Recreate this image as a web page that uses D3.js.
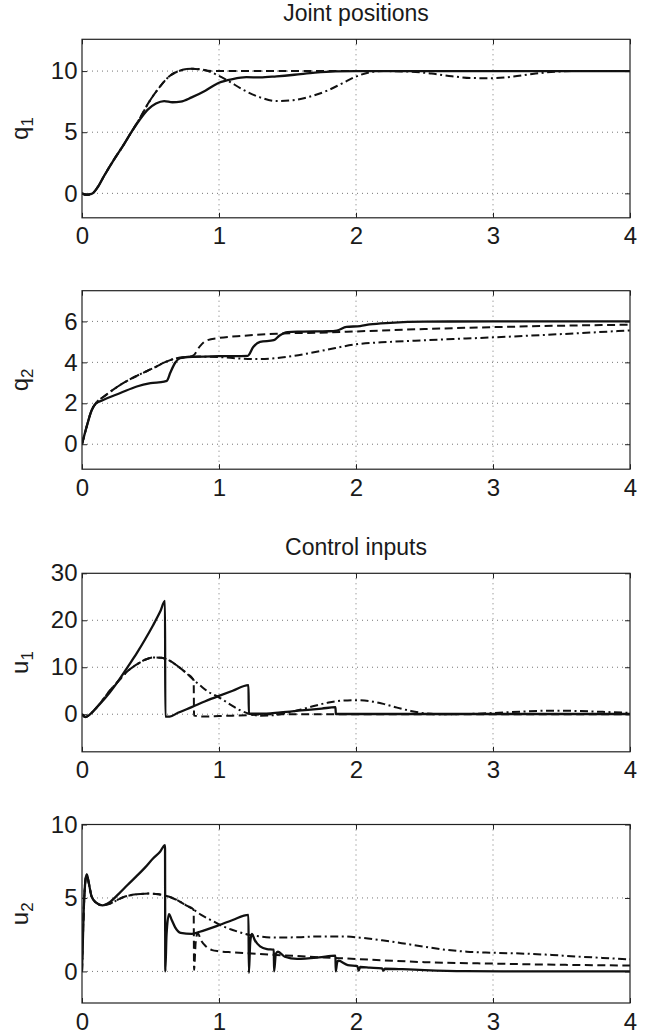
<!DOCTYPE html>
<html>
<head>
<meta charset="utf-8">
<script src="https://cdn.jsdelivr.net/npm/d3@7"></script>
<style>
  body { margin: 0; background: #fff; }
  text { font-family: "Liberation Sans", Arial, Helvetica, sans-serif; fill: #1a1a1a; }
</style>
</head>
<body>
<svg id="chart" width="665" height="1034"></svg>
<script>
// shared time axis
var timeTicks = [0, 1, 2, 3, 4];

// y tick labels per panel
var q1Ticks = [0, 5, 10];
var q2Ticks = [0, 2, 4, 6];
var u1Ticks = [0, 10, 20, 30];
var u2Ticks = [0, 5, 10];

// joint position q1  [t, value]
var q1Solid = [[0,0],[0.03,-0.12],[0.07,-0.05],[0.12,0.6],[0.16,1.4],[0.23,2.7],[0.3,3.9],[0.36,5.0],[0.42,6.0],[0.48,6.85],[0.54,7.35],[0.6,7.55],[0.66,7.45],[0.72,7.5],[0.8,7.85],[0.9,8.4],[1.0,9.05],[1.1,9.35],[1.2,9.5],[1.3,9.48],[1.42,9.57],[1.55,9.7],[1.7,9.88],[1.85,9.98],[2.0,10.0],[4,10.0]];
var q1Dashed = [[0,0],[0.03,-0.12],[0.07,-0.05],[0.12,0.6],[0.16,1.4],[0.23,2.7],[0.3,3.9],[0.36,5.0],[0.42,6.1],[0.48,7.3],[0.56,8.6],[0.64,9.6],[0.72,10.05],[0.8,10.2],[0.86,10.15],[0.92,10.02],[1.0,10.0],[4,10.0]];
var q1DashDot = [[0,0],[0.03,-0.12],[0.07,-0.05],[0.12,0.6],[0.16,1.4],[0.23,2.7],[0.3,3.9],[0.36,5.0],[0.42,6.1],[0.48,7.3],[0.56,8.6],[0.64,9.6],[0.72,10.05],[0.8,10.2],[0.86,10.15],[0.92,10.0],[0.98,9.72],[1.06,9.25],[1.18,8.45],[1.3,7.85],[1.42,7.55],[1.54,7.62],[1.66,7.9],[1.79,8.4],[1.9,9.0],[2.0,9.55],[2.1,9.9],[2.2,10.0],[2.4,9.95],[2.55,9.8],[2.7,9.58],[2.85,9.43],[3.0,9.42],[3.15,9.55],[3.3,9.78],[3.45,9.95],[3.6,10.0],[4,10.0]];

// joint position q2
var q2Solid = [[0,0],[0.034,0.86],[0.07,1.65],[0.1,1.98],[0.15,2.15],[0.28,2.5],[0.4,2.82],[0.5,2.98],[0.6,3.06],[0.62,3.1],[0.645,3.5],[0.68,3.98],[0.715,4.2],[0.77,4.26],[1.0,4.3],[1.21,4.32],[1.25,4.75],[1.3,5.0],[1.4,5.08],[1.44,5.3],[1.5,5.48],[1.6,5.5],[1.8,5.52],[1.86,5.55],[1.93,5.73],[2.03,5.77],[2.1,5.85],[2.25,5.93],[2.5,5.99],[3.0,6.0],[4,6.0]];
var q2Dashed = [[0,0],[0.034,0.86],[0.07,1.65],[0.1,2.0],[0.16,2.33],[0.28,2.9],[0.4,3.34],[0.52,3.72],[0.62,4.05],[0.69,4.2],[0.76,4.26],[0.81,4.32],[0.86,4.78],[0.91,5.07],[1.0,5.19],[1.18,5.3],[1.42,5.4],[1.79,5.46],[2.0,5.51],[2.5,5.63],[3.0,5.72],[3.5,5.79],[4.0,5.84]];
var q2DashDot = [[0,0],[0.034,0.86],[0.07,1.65],[0.1,2.0],[0.16,2.33],[0.28,2.9],[0.4,3.34],[0.52,3.72],[0.62,4.05],[0.69,4.2],[0.76,4.26],[0.85,4.28],[1.0,4.26],[1.1,4.21],[1.3,4.16],[1.49,4.26],[1.66,4.45],[1.79,4.62],[2.0,4.88],[2.25,5.0],[2.5,5.08],[3.0,5.22],[3.5,5.38],[4.0,5.56]];

// control input u1
var u1Solid = [[0,0],[0.025,-0.6],[0.06,0.0],[0.1,1.2],[0.18,3.8],[0.26,6.9],[0.334,10.1],[0.4,13.0],[0.46,15.9],[0.52,19.0],[0.57,21.8],[0.606,24.1],[0.608,-0.5],[0.64,-0.5],[0.7,0.3],[0.8,1.5],[0.9,2.75],[1.0,3.9],[1.1,5.0],[1.215,6.2],[1.218,0.1],[1.3,0.1],[1.45,0.4],[1.6,0.8],[1.75,1.2],[1.85,1.5],[1.853,0.05],[4,0.05]];
var u1Dashed = [[0,0],[0.025,-0.6],[0.06,0.0],[0.1,1.2],[0.15,3.0],[0.2,4.9],[0.27,7.2],[0.33,9.1],[0.4,10.6],[0.46,11.6],[0.52,12.1],[0.58,12.0],[0.64,11.4],[0.7,10.2],[0.76,8.8],[0.815,7.3],[0.818,-0.3],[0.9,-0.5],[1.0,-0.4],[1.2,-0.2],[1.4,0.0],[4,0.0]];
var u1DashDot = [[0,0],[0.025,-0.6],[0.06,0.0],[0.1,1.2],[0.15,3.0],[0.2,4.9],[0.27,7.2],[0.33,9.1],[0.4,10.6],[0.46,11.6],[0.52,12.1],[0.58,12.0],[0.64,11.4],[0.7,10.2],[0.76,8.8],[0.815,7.3],[0.86,6.2],[0.92,4.8],[1.0,3.6],[1.08,2.1],[1.15,0.9],[1.22,0.1],[1.3,-0.3],[1.4,-0.2],[1.5,0.3],[1.6,1.0],[1.7,1.8],[1.8,2.5],[1.9,2.9],[2.0,3.0],[2.1,2.8],[2.2,2.2],[2.3,1.4],[2.4,0.7],[2.5,0.2],[2.6,0.0],[2.8,0.05],[3.0,0.25],[3.2,0.55],[3.4,0.75],[3.6,0.7],[3.8,0.5],[4.0,0.3]];

// control input u2
var u2Solid = [[0,0],[0.012,4.0],[0.025,6.2],[0.035,6.6],[0.05,6.0],[0.07,5.1],[0.1,4.7],[0.15,4.5],[0.2,4.7],[0.27,5.3],[0.334,5.9],[0.4,6.5],[0.458,7.05],[0.52,7.7],[0.57,8.15],[0.606,8.6],[0.608,0.0],[0.617,2.5],[0.635,3.9],[0.655,3.5],[0.68,3.0],[0.72,2.62],[0.8,2.55],[0.86,2.7],[1.0,3.15],[1.1,3.5],[1.215,3.85],[1.218,-0.1],[1.228,2.0],[1.24,2.55],[1.26,2.15],[1.3,1.7],[1.35,1.52],[1.4,1.48],[1.402,0.0],[1.415,1.2],[1.43,1.34],[1.48,1.0],[1.57,0.85],[1.73,0.95],[1.85,1.08],[1.852,0.0],[1.862,0.6],[1.87,0.73],[1.94,0.43],[2.01,0.36],[2.02,0.05],[2.03,0.3],[2.1,0.26],[2.19,0.2],[2.2,0.05],[2.21,0.18],[2.34,0.15],[2.5,0.09],[2.8,0.02],[3.2,0.0],[4,0.0]];
var u2Dashed = [[0,0],[0.012,4.0],[0.025,6.2],[0.035,6.6],[0.05,6.0],[0.07,5.1],[0.1,4.7],[0.15,4.5],[0.2,4.6],[0.3,5.05],[0.4,5.25],[0.49,5.3],[0.56,5.25],[0.61,5.15],[0.66,5.0],[0.705,4.8],[0.76,4.5],[0.815,4.2],[0.818,0.1],[0.83,2.0],[0.845,2.6],[0.87,2.1],[0.9,1.75],[0.95,1.45],[1.0,1.37],[1.1,1.3],[1.42,1.12],[1.88,0.9],[2.19,0.76],[2.5,0.63],[3.0,0.53],[3.5,0.45],[4.0,0.4]];
var u2DashDot = [[0,0],[0.012,4.0],[0.025,6.2],[0.035,6.6],[0.05,6.0],[0.07,5.1],[0.1,4.7],[0.15,4.5],[0.2,4.6],[0.3,5.05],[0.4,5.25],[0.49,5.3],[0.56,5.25],[0.61,5.15],[0.66,5.0],[0.705,4.8],[0.76,4.5],[0.815,4.2],[0.87,3.85],[0.95,3.45],[1.02,3.1],[1.1,2.82],[1.216,2.5],[1.3,2.38],[1.42,2.3],[1.58,2.33],[1.73,2.38],[1.9,2.38],[2.05,2.28],[2.19,2.12],[2.35,1.9],[2.5,1.68],[2.65,1.48],[2.81,1.34],[3.0,1.27],[3.2,1.22],[3.43,1.12],[3.6,1.02],[3.8,0.92],[4.0,0.82]];

var left = 82, right = 630, plotH = 178.5;
var lineStyles = [null, "8,4.5", "8,3.5,2,3.5"];
var lineWidths = [2.3, 2, 2];

var panels = [
  {top: 39.3, ylim: [-2, 12.6], ticks: q1Ticks, name: "q", sub: "1", title: "Joint positions", titleY: 21, series: [q1Solid, q1Dashed, q1DashDot]},
  {top: 290.7, ylim: [-1.22, 7.5], ticks: q2Ticks, name: "q", sub: "2", series: [q2Solid, q2Dashed, q2DashDot]},
  {top: 573.3, ylim: [-8, 30], ticks: u1Ticks, name: "u", sub: "1", title: "Control inputs", titleY: 555, series: [u1Solid, u1Dashed, u1DashDot]},
  {top: 824.5, ylim: [-2.15, 10], ticks: u2Ticks, name: "u", sub: "2", series: [u2Solid, u2Dashed, u2DashDot]}
];

var svg = d3.select("#chart");
var w = right - left;

var x = d3.scaleLinear().domain([0, 4]).range([0, w]);

panels.forEach(function (p, i) {
  var y = d3.scaleLinear().domain(p.ylim).range([plotH, 0]);
  var g = svg.append("g").attr("transform", "translate(" + left + "," + p.top + ")");

  svg.append("clipPath").attr("id", "clip" + i)
    .append("rect").attr("width", w).attr("height", plotH);

  // dotted grid
  g.selectAll(".vgrid")
    .data(timeTicks.filter(function (d) { return d > 0 && d < 4; }))
    .enter().append("line")
    .attr("x1", function (d) { return x(d); })
    .attr("x2", function (d) { return x(d); })
    .attr("y1", 0).attr("y2", plotH)
    .attr("stroke", "#666").attr("stroke-width", 0.9)
    .attr("stroke-dasharray", "1,4");
  g.selectAll(".hgrid")
    .data(p.ticks.filter(function (d) { return y(d) > 1 && y(d) < plotH - 1; }))
    .enter().append("line")
    .attr("x1", 0).attr("x2", w)
    .attr("y1", function (d) { return y(d); })
    .attr("y2", function (d) { return y(d); })
    .attr("stroke", "#666").attr("stroke-width", 0.9)
    .attr("stroke-dasharray", "1,4");

  // axes with inward ticks on all four sides
  var bottom = g.append("g").attr("transform", "translate(0," + plotH + ")")
    .call(d3.axisBottom(x).tickValues(timeTicks).tickSizeInner(-5).tickSizeOuter(0).tickPadding(9.5).tickFormat(d3.format("d")));
  var leftAx = g.append("g")
    .call(d3.axisLeft(y).tickValues(p.ticks).tickSizeInner(-5).tickSizeOuter(0).tickPadding(4.5).tickFormat(d3.format("d")));
  var topAx = g.append("g")
    .call(d3.axisTop(x).tickValues(timeTicks).tickSizeInner(-5).tickSizeOuter(0).tickFormat(""));
  var rightAx = g.append("g").attr("transform", "translate(" + w + ",0)")
    .call(d3.axisRight(y).tickValues(p.ticks).tickSizeInner(-5).tickSizeOuter(0).tickFormat(""));

  [bottom, leftAx, topAx, rightAx].forEach(function (a) {
    a.select(".domain").remove();
    a.selectAll("line").attr("stroke", "#222");
    a.selectAll("text").attr("font-size", "24px").attr("fill", "#1a1a1a")
      .attr("font-family", "'Liberation Sans', Arial, Helvetica, sans-serif");
  });

  // curves
  var line = d3.line()
    .x(function (d) { return x(d[0]); })
    .y(function (d) { return y(d[1]); })
    .curve(d3.curveMonotoneX);

  g.append("g").attr("clip-path", "url(#clip" + i + ")")
    .selectAll("path")
    .data(p.series)
    .enter().append("path")
    .attr("d", line)
    .attr("fill", "none")
    .attr("stroke", "#111")
    .attr("stroke-width", function (d, k) { return lineWidths[k]; })
    .attr("stroke-linejoin", "round")
    .attr("stroke-dasharray", function (d, k) { return lineStyles[k]; });

  // frame
  g.append("rect")
    .attr("width", w).attr("height", plotH)
    .attr("fill", "none").attr("stroke", "#222").attr("stroke-width", 1.2);

  // y label with subscript
  var lab = svg.append("text")
    .attr("transform", "translate(28," + (p.top + plotH / 2) + ") rotate(-90)")
    .attr("text-anchor", "middle")
    .attr("font-size", "24px");
  lab.append("tspan").text(p.name);
  lab.append("tspan").attr("dy", "0.28em").attr("font-size", "17px").text(p.sub);

  if (p.title) {
    svg.append("text")
      .attr("x", left + w / 2).attr("y", p.titleY)
      .attr("text-anchor", "middle")
      .attr("font-size", "23px")
      .text(p.title);
  }
});
</script>
</body>
</html>
